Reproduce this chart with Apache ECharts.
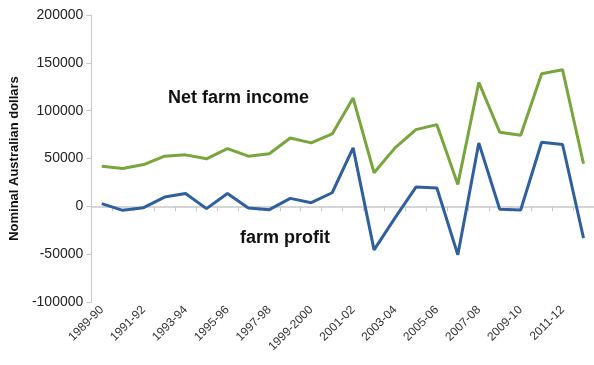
<!DOCTYPE html>
<html><head><meta charset="utf-8">
<script src="https://cdn.jsdelivr.net/npm/echarts@6/dist/echarts.min.js"></script>
<style>html,body{margin:0;padding:0;background:#fff}#c{width:594px;height:365px}</style>
</head><body><div id="c"></div>
<script>
var categories = ["1989-90","1990-91","1991-92","1992-93","1993-94","1994-95","1995-96","1996-97","1997-98","1998-99","1999-2000","2000-01","2001-02","2002-03","2003-04","2004-05","2005-06","2006-07","2007-08","2008-09","2009-10","2010-11","2011-12","2012-13"];
var netFarmIncome = [42000,39600,43700,52400,53800,49700,60400,52400,54900,71500,66300,75700,113200,35100,61100,80200,85400,22900,129500,77400,74300,138500,142700,44500];
var farmProfit = [2800,-4200,-1400,9700,13500,-2400,13500,-1700,-3500,8300,3800,14200,61100,-45500,-12000,20100,19100,-50700,66300,-3100,-3800,67000,64600,-33300];
var yTicks = {min:-100000, max:200000, interval:50000};

var chart = echarts.init(document.getElementById('c'), null, {renderer:'canvas'});
var font = 'Liberation Sans, Arial, sans-serif';
chart.setOption({
  animation:false,
  grid:{left:90, top:15, bottom:63, right:-5, containLabel:false},
  xAxis:[{
    type:'category', data:categories, boundaryGap:true,
    axisLine:{show:false, onZero:false}, axisTick:{show:false},
    axisLabel:{interval:1, rotate:45, fontFamily:font, fontSize:12, color:'#333', margin:6}
  },{
    type:'category', data:categories, boundaryGap:true, position:'bottom',
    axisLine:{show:true, onZero:true, lineStyle:{color:'#c8c8c8', width:1.5}},
    axisTick:{show:true, interval:0, length:5, lineStyle:{color:'#c8c8c8'}},
    axisLabel:{show:false}
  }],
  yAxis:{
    type:'value', min:yTicks.min, max:yTicks.max, interval:yTicks.interval,
    name:'Nominal Australian dollars', nameLocation:'middle', nameGap:68,
    nameTextStyle:{fontFamily:font, fontSize:13, fontWeight:'bold', color:'#111'},
    axisLine:{show:true, lineStyle:{color:'#c8c8c8'}},
    axisTick:{show:true, length:5, lineStyle:{color:'#c8c8c8'}},
    splitLine:{show:false},
    axisLabel:{fontFamily:font, fontSize:14, color:'#222', margin:8, formatter:function(v){return String(v);}}
  },
  series:[{
    type:'line', name:'Net farm income', data:netFarmIncome, xAxisIndex:0,
    symbol:'none', lineStyle:{color:'#78a53c', width:3}
  },{
    type:'line', name:'farm profit', data:farmProfit, xAxisIndex:0,
    symbol:'none', lineStyle:{color:'#2f5f9d', width:3}
  }],
  graphic:[
    {type:'text', left:168, top:89, style:{text:'Net farm income', font:'bold 18px '+font, fill:'#111'}},
    {type:'text', left:240, top:229, style:{text:'farm profit', font:'bold 18px '+font, fill:'#111'}}
  ]
});
</script></body></html>
